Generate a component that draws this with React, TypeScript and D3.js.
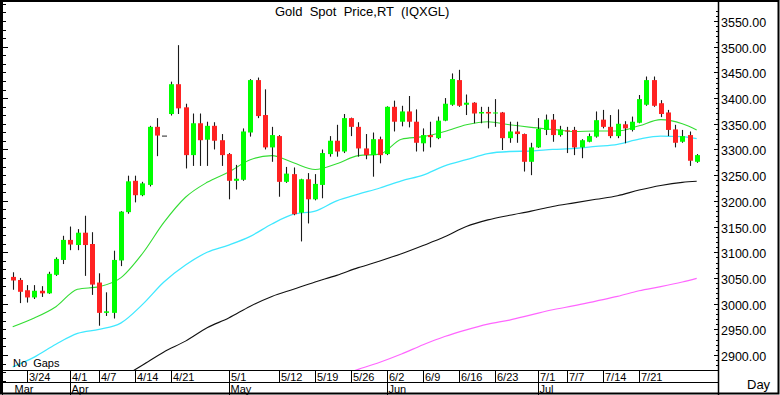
import React, { useEffect, useRef } from "react";
import * as d3 from "d3";

// trading days shown on the chart
const candleDates = [
  "3/20", "3/21", "3/24", "3/25", "3/26", "3/27", "3/28", "3/31",
  "4/1", "4/2", "4/3", "4/4", "4/7", "4/8", "4/9", "4/10", "4/11", "4/14", "4/15", "4/16", "4/17", "4/18",
  "4/21", "4/22", "4/23", "4/24", "4/25", "4/28", "4/29", "4/30",
  "5/1", "5/2", "5/5", "5/6", "5/7", "5/8", "5/9", "5/12", "5/13", "5/14", "5/15", "5/16",
  "5/19", "5/20", "5/21", "5/22", "5/23", "5/26", "5/27", "5/28", "5/29", "5/30",
  "6/2", "6/3", "6/4", "6/5", "6/6", "6/9", "6/10", "6/11", "6/12", "6/13", "6/16", "6/17", "6/18", "6/19", "6/20",
  "6/23", "6/24", "6/25", "6/26", "6/27", "6/30",
  "7/1", "7/2", "7/3", "7/4", "7/7", "7/8", "7/9", "7/10", "7/11", "7/14", "7/15", "7/16", "7/17", "7/18",
  "7/21", "7/22", "7/23", "7/24", "7/25", "7/28", "7/29", "7/30", "7/31",
];

const openPrices = [
  3052, 3046, 3026, 3012, 3025, 3020, 3056, 3085,
  3124, 3114, 3138, 3116, 3041, 2982, 2982, 3084, 3178, 3239, 3211, 3231, 3344, 3327,
  3369, 3427, 3382, 3289, 3351, 3319, 3346, 3318,
  3291, 3239, 3241, 3333, 3435, 3367, 3304, 3326, 3237, 3252, 3177, 3242,
  3203, 3231, 3291, 3317, 3296, 3361, 3344, 3302, 3289, 3320,
  3291, 3383, 3354, 3374, 3354, 3312, 3328, 3322, 3356, 3387, 3435, 3387, 3391, 3370, 3373,
  3370, 3372, 3322, 3335, 3330, 3276,
  3304, 3338, 3358, 3328, 3337, 3338, 3304, 3315, 3325, 3358, 3344, 3326, 3349, 3338,
  3352, 3387, 3435, 3390, 3372, 3339, 3315, 3328, 3276,
];

const highPrices = [
  3061, 3050, 3036, 3036, 3034, 3062, 3090, 3132,
  3150, 3145, 3171, 3139, 3059, 3022, 3103, 3180, 3249, 3249, 3237, 3346, 3361, 3327,
  3432, 3503, 3389, 3370, 3370, 3354, 3353, 3330,
  3293, 3270, 3341, 3437, 3440, 3417, 3344, 3328, 3266, 3265, 3243, 3254,
  3252, 3300, 3326, 3348, 3369, 3362, 3353, 3330, 3333, 3325,
  3384, 3395, 3385, 3404, 3378, 3341, 3354, 3364, 3400, 3448, 3455, 3407, 3392, 3383, 3383,
  3398, 3373, 3354, 3354, 3331, 3313,
  3361, 3368, 3369, 3346, 3344, 3344, 3320, 3331, 3374, 3377, 3367, 3378, 3355, 3364,
  3406, 3442, 3442, 3396, 3377, 3348, 3338, 3335, 3291,
];

const lowPrices = [
  3027, 3001, 3002, 3009, 3013, 3019, 3054, 3077,
  3104, 3104, 3054, 3017, 2957, 2976, 2971, 3073, 3175, 3197, 3209, 3228, 3287, 3327,
  3366, 3369, 3263, 3268, 3268, 3268, 3300, 3268,
  3203, 3222, 3239, 3325, 3361, 3300, 3276, 3208, 3235, 3172, 3121, 3156,
  3201, 3205, 3286, 3286, 3293, 3326, 3286, 3281, 3247, 3273,
  3289, 3335, 3345, 3343, 3296, 3296, 3304, 3320, 3355, 3385, 3383, 3367, 3351, 3351, 3341,
  3344, 3299, 3313, 3313, 3257, 3250,
  3303, 3328, 3315, 3325, 3293, 3289, 3283, 3314, 3323, 3341, 3322, 3322, 3312, 3335,
  3351, 3385, 3383, 3363, 3326, 3304, 3313, 3268, 3274,
];

const closePrices = [
  3045, 3023, 3012, 3025, 3020, 3058, 3087, 3124,
  3115, 3138, 3114, 3037, 2982, 2985, 3085, 3179, 3238, 3211, 3234, 3344, 3327, 3327,
  3427, 3380, 3289, 3351, 3318, 3346, 3317, 3289,
  3239, 3243, 3335, 3435, 3365, 3304, 3328, 3237, 3253, 3174, 3242, 3203,
  3233, 3293, 3317, 3296, 3361, 3344, 3302, 3289, 3320, 3289,
  3383, 3354, 3374, 3354, 3313, 3328, 3324, 3356, 3389, 3437, 3385, 3391, 3370, 3373, 3370,
  3372, 3322, 3335, 3330, 3276, 3304,
  3340, 3358, 3328, 3339, 3336, 3304, 3318, 3326, 3357, 3344, 3326, 3350, 3341, 3354,
  3398, 3435, 3385, 3369, 3338, 3313, 3326, 3278, 3289,
];

// moving averages at these days
const maDates = [
  "3/20", "3/25", "3/28", "4/2", "4/7", "4/10", "4/15", "4/18", "4/23", "4/28", "5/1",
  "5/6", "5/9", "5/14", "5/19", "5/22", "5/27", "5/30", "6/4", "6/9", "6/12", "6/17",
  "6/20", "6/25", "6/30", "7/3", "7/8", "7/11", "7/16", "7/21", "7/24", "7/29", "7/31",
];
const ma20 = [
  2955, 2972, 2994, 3028, 3033, 3050, 3097, 3158, 3207, 3236, 3256,
  3280, 3288, 3274, 3261, 3272, 3288, 3291, 3320, 3325, 3335, 3348,
  3354, 3348, 3343, 3339, 3335, 3336, 3336, 3346, 3358, 3350, 3338,
];
const ma50 = [
  2877, 2896, 2921, 2942, 2950, 2962, 2998, 3042, 3075, 3100, 3114,
  3131, 3155, 3174, 3180, 3200, 3213, 3225, 3239, 3250, 3268, 3280,
  3292, 3296, 3297, 3300, 3302, 3306, 3310, 3320, 3326, 3325, 3321,
];
const ma100 = [
  null, null, null, null, null, 2855, 2880, 2906, 2927, 2953, 2972,
  2995, 3014, 3028, 3042, 3055, 3070, 3083, 3097, 3113, 3130, 3150,
  3163, 3172, 3180, 3189, 3196, 3203, 3210, 3221, 3230, 3236, 3238,
];
const ma200 = [
  null, null, null, null, null, null, null, null, null, null, null,
  null, null, null, null, 2858, 2872, 2886, 2902, 2920, 2936, 2949,
  2960, 2968, 2978, 2988, 2996, 3005, 3014, 3025, 3033, 3042, 3049,
];

const priceTicks = [2900, 2950, 3000, 3050, 3100, 3150, 3200, 3250, 3300, 3350, 3400, 3450, 3500, 3550];
const dayTicks = ["3/24", "4/1", "4/7", "4/14", "4/21", "5/1", "5/12", "5/19", "5/26", "6/2", "6/9", "6/16", "6/23", "7/1", "7/7", "7/14", "7/21"];
const monthStarts = ["3/20", "4/1", "5/1", "6/2", "7/1"];
const monthNames = ["Mar", "Apr", "May", "Jun", "Jul"];

export default function App() {
  const ref = useRef(null);

  useEffect(() => {
    const W = 780, H = 395;
    const left = 3, right = 718, top = 3, bottom = 370;
    const font = "'Liberation Sans', Arial, sans-serif";

    const svg = d3.select(ref.current);
    svg.selectAll("*").remove();

    svg.append("rect").attr("width", W).attr("height", H).attr("fill", "#fff");

    const x = d3.scalePoint().domain(candleDates).range([12.7, 696.7]);
    const y = d3.scaleLinear().domain([2900, 3550]).range([355, 21]);

    svg.append("clipPath").attr("id", "plotclip")
      .append("rect").attr("x", left).attr("y", top).attr("width", right - left).attr("height", bottom - top);

    const plot = svg.append("g").attr("clip-path", "url(#plotclip)");

    // moving averages
    const maLine = d3.line()
      .defined((d) => d[1] != null)
      .x((d) => x(d[0]))
      .y((d) => y(d[1]))
      .curve(d3.curveMonotoneX);

    const mas = [
      { vals: ma200, color: "#ff66ff", w: 1.2 },
      { vals: ma100, color: "#111", w: 1.1 },
      { vals: ma50, color: "#40e8ff", w: 1.3 },
      { vals: ma20, color: "#33dd33", w: 1.1 },
    ];
    mas.forEach((m) => {
      plot.append("path")
        .datum(maDates.map((d, i) => [d, m.vals[i]]))
        .attr("fill", "none")
        .attr("stroke", m.color)
        .attr("stroke-width", m.w)
        .attr("d", maLine);
    });

    // candles
    const candles = plot.selectAll("g.candle")
      .data(candleDates)
      .join("g")
      .attr("class", "candle");

    candles.append("line")
      .attr("x1", (d) => Math.round(x(d)) + 0.5)
      .attr("x2", (d) => Math.round(x(d)) + 0.5)
      .attr("y1", (d, i) => y(highPrices[i]))
      .attr("y2", (d, i) => y(lowPrices[i]))
      .attr("stroke", "#1a1a1a")
      .attr("stroke-width", 1.1);

    candles.append("rect")
      .attr("x", (d) => Math.round(x(d)) - 2)
      .attr("width", 5)
      .attr("y", (d, i) => y(Math.max(openPrices[i], closePrices[i])))
      .attr("height", (d, i) => Math.max(1, Math.abs(y(openPrices[i]) - y(closePrices[i]))))
      .attr("fill", (d, i) => {
        if (openPrices[i] === closePrices[i]) return "#222";
        return closePrices[i] > openPrices[i] ? "#00ff00" : "#ff2222";
      });

    // left edge ticks
    const leftTicks = d3.range(2850, 3601, 100 / 6);
    svg.selectAll("line.lt")
      .data(leftTicks)
      .join("line")
      .attr("class", "lt")
      .attr("x1", left)
      .attr("x2", (d, i) => (i % 6 === 3 ? left + 5 : left + 3))
      .attr("y1", (d) => Math.round(y(d)) + 0.5)
      .attr("y2", (d) => Math.round(y(d)) + 0.5)
      .attr("stroke", "#000")
      .attr("stroke-width", 1);

    // right axis
    svg.append("line")
      .attr("x1", right + 0.5).attr("x2", right + 0.5)
      .attr("y1", 0).attr("y2", H)
      .attr("stroke", "#000").attr("stroke-width", 1.5);

    const minor = d3.range(2880, 3571, 10).filter((v) => y(v) > top && y(v) < bottom);
    svg.selectAll("line.rt")
      .data(minor)
      .join("line")
      .attr("class", "rt")
      .attr("x1", (d) => (d % 50 === 0 ? right - 4 : right - 2))
      .attr("x2", right)
      .attr("y1", (d) => Math.round(y(d)) + 0.5)
      .attr("y2", (d) => Math.round(y(d)) + 0.5)
      .attr("stroke", "#000");

    svg.selectAll("text.price")
      .data(priceTicks)
      .join("text")
      .attr("class", "price")
      .attr("x", right + 3)
      .attr("y", (d) => y(d) + 6)
      .attr("font-family", font)
      .attr("font-size", 12.5)
      .attr("fill", "#000")
      .text((d) => d3.format(".2f")(d));

    // date axis rows
    svg.append("line").attr("x1", left).attr("x2", right).attr("y1", bottom + 0.5).attr("y2", bottom + 0.5).attr("stroke", "#000");
    svg.append("line").attr("x1", left).attr("x2", right).attr("y1", 382.5).attr("y2", 382.5).attr("stroke", "#000");

    svg.selectAll("line.dt")
      .data(dayTicks)
      .join("line")
      .attr("class", "dt")
      .attr("x1", (d) => Math.round(x(d)) + 0.5)
      .attr("x2", (d) => Math.round(x(d)) + 0.5)
      .attr("y1", bottom)
      .attr("y2", 382)
      .attr("stroke", "#000");

    svg.selectAll("text.dt")
      .data(dayTicks)
      .join("text")
      .attr("class", "dt")
      .attr("x", (d) => Math.round(x(d)) + 2)
      .attr("y", 380.5)
      .attr("font-family", font)
      .attr("font-size", 11)
      .text((d) => d);

    svg.selectAll("line.mt")
      .data(monthStarts.slice(1))
      .join("line")
      .attr("class", "mt")
      .attr("x1", (d) => Math.round(x(d)) + 0.5)
      .attr("x2", (d) => Math.round(x(d)) + 0.5)
      .attr("y1", 382)
      .attr("y2", H)
      .attr("stroke", "#000");

    svg.selectAll("text.mt")
      .data(monthStarts)
      .join("text")
      .attr("class", "mt")
      .attr("x", (d) => Math.round(x(d)) + 1.5)
      .attr("y", 392.5)
      .attr("font-family", font)
      .attr("font-size", 11)
      .text((d, i) => monthNames[i]);

    // texts
    svg.append("text")
      .attr("x", 275)
      .attr("y", 16)
      .attr("font-family", font)
      .attr("font-size", 13)
      .style("white-space", "pre")
      .text("Gold  Spot  Price,RT  (IQXGL)");

    svg.append("text")
      .attr("x", 13)
      .attr("y", 367)
      .attr("font-family", font)
      .attr("font-size", 11)
      .style("white-space", "pre")
      .text("No  Gaps");

    svg.append("text")
      .attr("x", 747)
      .attr("y", 389)
      .attr("font-family", font)
      .attr("font-size", 13)
      .text("Day");

    // outer frame
    svg.append("rect")
      .attr("x", 1).attr("y", 1).attr("width", W - 2.5).attr("height", H - 2.5)
      .attr("fill", "none").attr("stroke", "#000").attr("stroke-width", 2);
    svg.append("line").attr("x1", 2.5).attr("x2", 2.5).attr("y1", 0).attr("y2", H).attr("stroke", "#000").attr("stroke-width", 1);
  }, []);

  return (
    <svg
      ref={ref}
      width={780}
      height={395}
      style={{ position: "fixed", left: 0, top: 0, display: "block" }}
    />
  );
}
